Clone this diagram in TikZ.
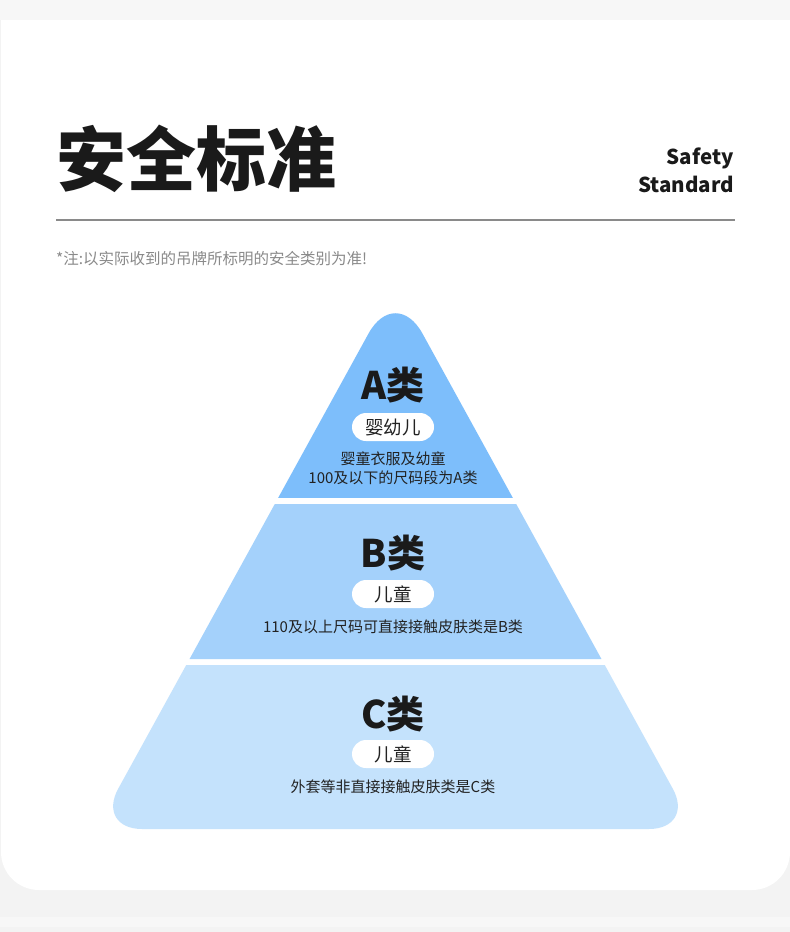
\documentclass[tikz,border=0pt]{standalone}
\usepackage{fontspec}
\setmainfont{Noto Sans CJK SC}
\definecolor{pagebg}{HTML}{F3F3F3}
\definecolor{bandbg}{HTML}{F7F7F7}
\definecolor{colA}{HTML}{7DBEFB}
\definecolor{colB}{HTML}{A4D1FB}
\definecolor{colC}{HTML}{C4E2FC}
\definecolor{inkdark}{HTML}{1A1A1A}
\definecolor{inkmid}{HTML}{222222}
\definecolor{inkgray}{HTML}{8A8A8A}
\begin{document}
\begin{tikzpicture}[x=1pt,y=-1pt,
  titletext/.style={inner sep=0pt,text=inkdark,font=\fontsize{70}{70}\selectfont\bfseries},
  entext/.style={inner sep=0pt,text=inkdark,font=\fontsize{20.5}{21}\selectfont\bfseries},
  notetext/.style={inner sep=0pt,text=inkgray,font=\fontsize{15.5}{18}\selectfont},
  clstext/.style={inner sep=0pt,text=inkdark,font=\fontsize{38}{38}\selectfont\bfseries},
  pill/.style={fill=white,rounded corners=14pt,minimum width=82pt,minimum height=28pt,inner sep=0pt,text=inkmid,font=\fontsize{18.5}{20}\selectfont},
  desctext/.style={inner sep=0pt,text=inkmid,font=\fontsize{15}{17}\selectfont}]
\useasboundingbox (0,0) rectangle (790,932);
% background
\fill[pagebg] (0,0) rectangle (790,932);
\fill[white,rounded corners=38pt] (1,-100) rectangle (790,890);
\fill[bandbg] (0,0) rectangle (790,20);
\fill[bandbg] (0,917) rectangle (790,927);
% title block
\node[titletext] (title) at (196.5,158.5) {安全标准};
\node[entext,anchor=base east] (en1) at (734,164) {Safety};
\node[entext,anchor=base east] (en2) at (734,192) {Standard};
\draw[inkgray,line width=2pt] (56,220) -- (735,220);
\node[notetext,anchor=west] (note) at (56,258.5) {*注:以实际收到的吊牌所标明的安全类别为准!};
% pyramid
\begin{scope}
  \clip (0,0) rectangle (790,497);
  \fill[colA,rounded corners=56pt] (395.5,284.5) -- (569,600) -- (222,600) -- cycle;
\end{scope}
\fill[colB] (274.8,504) -- (516.2,504) -- (601.45,659) -- (189.55,659) -- cycle;
\begin{scope}
  \clip (0,665.5) rectangle (790,900);
  \fill[colC,rounded corners=46pt] (244,560) -- (547,560) -- (694.95,829) -- (96.05,829) -- cycle;
\end{scope}
% labels
\node[clstext] (a) at (393,385) {A类};
\node[pill] (ap) at (393,427) {婴幼儿};
\node[desctext] (ad1) at (393,459) {婴童衣服及幼童};
\node[desctext] (ad2) at (393,478) {100及以下的尺码段为A类};
\node[clstext] (b) at (393,553) {B类};
\node[pill] (bp) at (393,594) {儿童};
\node[desctext] (bd) at (393,627) {110及以上尺码可直接接触皮肤类是B类};
\node[clstext] (c) at (393,714) {C类};
\node[pill] (cp) at (393,754) {儿童};
\node[desctext] (cd) at (393,787) {外套等非直接接触皮肤类是C类};
\end{tikzpicture}
\end{document}
